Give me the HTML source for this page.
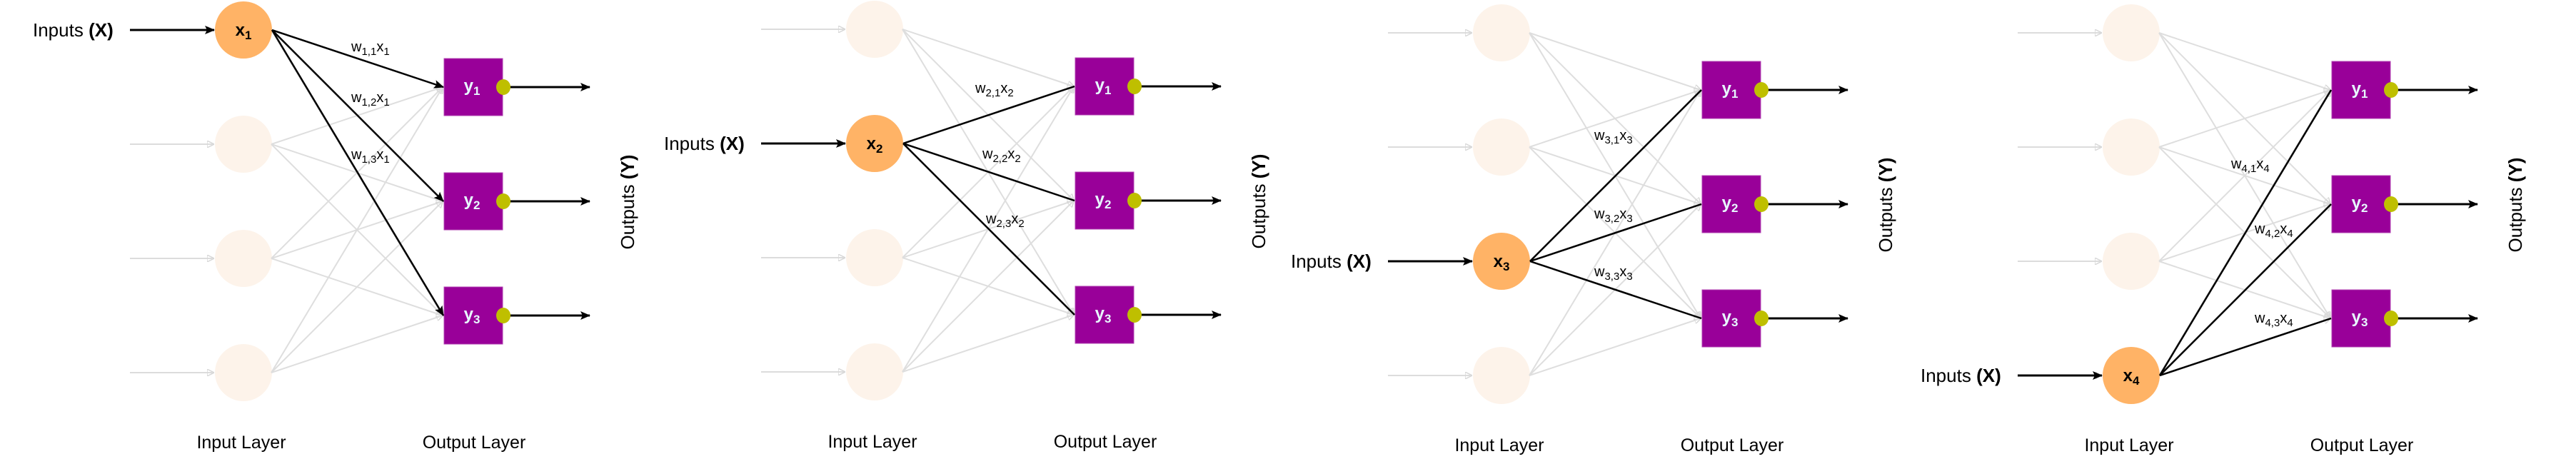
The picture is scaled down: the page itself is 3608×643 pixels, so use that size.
<!DOCTYPE html>
<html><head><meta charset="utf-8"><style>
html,body{margin:0;padding:0;background:#fff;width:3608px;height:643px;overflow:hidden}
svg{display:block}
text{font-family:"Liberation Sans",Arial,sans-serif}
</style></head><body>
<svg width="3608" height="643" viewBox="0 0 3608 643" xmlns="http://www.w3.org/2000/svg">
<defs>
<marker id="ab" markerWidth="10" markerHeight="10" refX="9" refY="5" orient="auto" markerUnits="userSpaceOnUse"><path d="M0,0 L10,5 L0,10 L3,5 z" fill="#000"/></marker>
<marker id="ag" markerWidth="10" markerHeight="10" refX="9" refY="5" orient="auto" markerUnits="userSpaceOnUse"><path d="M0,0 L10,5 L0,10 z" fill="none" stroke="#d8d8d8" stroke-width="1.5"/></marker>
<marker id="ab2" markerWidth="14" markerHeight="14" refX="13" refY="7" orient="auto" markerUnits="userSpaceOnUse"><path d="M0,1 L14,7 L0,13 L3,7 z" fill="#000"/></marker>
<g id="base">
 <g stroke="#dcdcdc" stroke-width="2" marker-end="url(#ag)">
  <line x1="182" y1="42" x2="299" y2="42"/><line x1="182" y1="202" x2="299" y2="202"/>
  <line x1="182" y1="362" x2="299" y2="362"/><line x1="182" y1="522" x2="299" y2="522"/>
 </g>
 <g fill="#fdf3ea">
  <circle cx="341" cy="42" r="40"/><circle cx="341" cy="202" r="40"/>
  <circle cx="341" cy="362" r="40"/><circle cx="341" cy="522" r="40"/>
 </g>
 <g stroke="#dedede" stroke-width="2" marker-end="url(#ag)">
  <line x1="380" y1="42" x2="620" y2="122"/><line x1="380" y1="42" x2="620" y2="282"/><line x1="380" y1="42" x2="620" y2="442"/>
  <line x1="380" y1="202" x2="620" y2="122"/><line x1="380" y1="202" x2="620" y2="282"/><line x1="380" y1="202" x2="620" y2="442"/>
  <line x1="380" y1="362" x2="620" y2="122"/><line x1="380" y1="362" x2="620" y2="282"/><line x1="380" y1="362" x2="620" y2="442"/>
  <line x1="380" y1="522" x2="620" y2="122"/><line x1="380" y1="522" x2="620" y2="282"/><line x1="380" y1="522" x2="620" y2="442"/>
 </g>
 <g fill="#990099" stroke="#b040b0" stroke-width="1">
  <rect x="622" y="82" width="82" height="80"/><rect x="622" y="242" width="82" height="80"/><rect x="622" y="402" width="82" height="80"/>
 </g>
 <g stroke="#000" stroke-width="3" marker-end="url(#ab2)">
  <line x1="712" y1="122" x2="826" y2="122"/><line x1="712" y1="282" x2="826" y2="282"/><line x1="712" y1="442" x2="826" y2="442"/>
 </g>
 <g fill="#bfbf00">
  <ellipse cx="705" cy="122" rx="10" ry="11"/><ellipse cx="705" cy="282" rx="10" ry="11"/><ellipse cx="705" cy="442" rx="10" ry="11"/>
 </g>
</g>
</defs>

<!-- Panel 1 -->
<g transform="translate(0,0)">
 <use href="#base"/>
 <line x1="182" y1="42" x2="300" y2="42" stroke="#000" stroke-width="3" marker-end="url(#ab2)"/>
 <circle cx="341" cy="42" r="40" fill="#ffb366"/>
 <g stroke="#000" stroke-width="2.5" marker-end="url(#ab2)">
  <line x1="381" y1="42" x2="621" y2="122"/><line x1="381" y1="42" x2="621" y2="282"/><line x1="381" y1="42" x2="621" y2="442"/>
 </g>
 <text x="46" y="51" font-size="26">Inputs <tspan font-weight="bold">(X)</tspan></text>
 <text x="341" y="50" font-size="24" font-weight="bold" text-anchor="middle">x<tspan font-size="17" dy="5">1</tspan></text>
 <text x="492" y="72" font-size="20">w<tspan font-size="15" dy="5">1,1</tspan><tspan dy="-5">x</tspan><tspan font-size="15" dy="5">1</tspan></text>
 <text x="492" y="143" font-size="20">w<tspan font-size="15" dy="5">1,2</tspan><tspan dy="-5">x</tspan><tspan font-size="15" dy="5">1</tspan></text>
 <text x="492" y="223" font-size="20">w<tspan font-size="15" dy="5">1,3</tspan><tspan dy="-5">x</tspan><tspan font-size="15" dy="5">1</tspan></text>
 <g fill="#e8faff" font-size="24" font-weight="bold" text-anchor="middle">
  <text x="661" y="128">y<tspan font-size="17" dy="5">1</tspan></text>
  <text x="661" y="288">y<tspan font-size="17" dy="5">2</tspan></text>
  <text x="661" y="448">y<tspan font-size="17" dy="5">3</tspan></text>
 </g>
 <text transform="translate(888,283) rotate(-90)" font-size="26" text-anchor="middle">Outputs <tspan font-weight="bold">(Y)</tspan></text>
 <text x="338" y="628" font-size="25" text-anchor="middle">Input Layer</text>
 <text x="664" y="628" font-size="25" text-anchor="middle">Output Layer</text>
</g>

<!-- Panel 2 -->
<g transform="translate(884,-1)">
 <use href="#base"/>
 <line x1="182" y1="202" x2="300" y2="202" stroke="#000" stroke-width="3" marker-end="url(#ab2)"/>
 <circle cx="341" cy="202" r="40" fill="#ffb366"/>
 <g stroke="#000" stroke-width="2.5">
  <line x1="381" y1="202" x2="621" y2="122"/><line x1="381" y1="202" x2="621" y2="282"/><line x1="381" y1="202" x2="621" y2="442"/>
 </g>
 <text x="46" y="211" font-size="26">Inputs <tspan font-weight="bold">(X)</tspan></text>
 <text x="341" y="210" font-size="24" font-weight="bold" text-anchor="middle">x<tspan font-size="17" dy="5">2</tspan></text>
 <text x="482" y="131" font-size="20">w<tspan font-size="15" dy="5">2,1</tspan><tspan dy="-5">x</tspan><tspan font-size="15" dy="5">2</tspan></text>
 <text x="492" y="223" font-size="20">w<tspan font-size="15" dy="5">2,2</tspan><tspan dy="-5">x</tspan><tspan font-size="15" dy="5">2</tspan></text>
 <text x="497" y="314" font-size="20">w<tspan font-size="15" dy="5">2,3</tspan><tspan dy="-5">x</tspan><tspan font-size="15" dy="5">2</tspan></text>
 <g fill="#e8faff" font-size="24" font-weight="bold" text-anchor="middle">
  <text x="661" y="128">y<tspan font-size="17" dy="5">1</tspan></text>
  <text x="661" y="288">y<tspan font-size="17" dy="5">2</tspan></text>
  <text x="661" y="448">y<tspan font-size="17" dy="5">3</tspan></text>
 </g>
 <text transform="translate(888,283) rotate(-90)" font-size="26" text-anchor="middle">Outputs <tspan font-weight="bold">(Y)</tspan></text>
 <text x="338" y="628" font-size="25" text-anchor="middle">Input Layer</text>
 <text x="664" y="628" font-size="25" text-anchor="middle">Output Layer</text>
</g>

<!-- Panel 3 -->
<g transform="translate(1762,4)">
 <use href="#base"/>
 <line x1="182" y1="362" x2="300" y2="362" stroke="#000" stroke-width="3" marker-end="url(#ab2)"/>
 <circle cx="341" cy="362" r="40" fill="#ffb366"/>
 <g stroke="#000" stroke-width="2.5">
  <line x1="381" y1="362" x2="621" y2="122"/><line x1="381" y1="362" x2="621" y2="282"/><line x1="381" y1="362" x2="621" y2="442"/>
 </g>
 <text x="46" y="371" font-size="26">Inputs <tspan font-weight="bold">(X)</tspan></text>
 <text x="341" y="370" font-size="24" font-weight="bold" text-anchor="middle">x<tspan font-size="17" dy="5">3</tspan></text>
 <text x="471" y="192" font-size="20">w<tspan font-size="15" dy="5">3,1</tspan><tspan dy="-5">x</tspan><tspan font-size="15" dy="5">3</tspan></text>
 <text x="471" y="302" font-size="20">w<tspan font-size="15" dy="5">3,2</tspan><tspan dy="-5">x</tspan><tspan font-size="15" dy="5">3</tspan></text>
 <text x="471" y="383" font-size="20">w<tspan font-size="15" dy="5">3,3</tspan><tspan dy="-5">x</tspan><tspan font-size="15" dy="5">3</tspan></text>
 <g fill="#e8faff" font-size="24" font-weight="bold" text-anchor="middle">
  <text x="661" y="128">y<tspan font-size="17" dy="5">1</tspan></text>
  <text x="661" y="288">y<tspan font-size="17" dy="5">2</tspan></text>
  <text x="661" y="448">y<tspan font-size="17" dy="5">3</tspan></text>
 </g>
 <text transform="translate(888,283) rotate(-90)" font-size="26" text-anchor="middle">Outputs <tspan font-weight="bold">(Y)</tspan></text>
 <text x="338" y="628" font-size="25" text-anchor="middle">Input Layer</text>
 <text x="664" y="628" font-size="25" text-anchor="middle">Output Layer</text>
</g>

<!-- Panel 4 -->
<g transform="translate(2644,4)">
 <use href="#base"/>
 <line x1="182" y1="522" x2="300" y2="522" stroke="#000" stroke-width="3" marker-end="url(#ab2)"/>
 <circle cx="341" cy="522" r="40" fill="#ffb366"/>
 <g stroke="#000" stroke-width="2.5">
  <line x1="381" y1="522" x2="621" y2="122"/><line x1="381" y1="522" x2="621" y2="282"/><line x1="381" y1="522" x2="621" y2="442"/>
 </g>
 <text x="46" y="531" font-size="26">Inputs <tspan font-weight="bold">(X)</tspan></text>
 <text x="341" y="530" font-size="24" font-weight="bold" text-anchor="middle">x<tspan font-size="17" dy="5">4</tspan></text>
 <text x="481" y="232" font-size="20">w<tspan font-size="15" dy="5">4,1</tspan><tspan dy="-5">x</tspan><tspan font-size="15" dy="5">4</tspan></text>
 <text x="514" y="323" font-size="20">w<tspan font-size="15" dy="5">4,2</tspan><tspan dy="-5">x</tspan><tspan font-size="15" dy="5">4</tspan></text>
 <text x="514" y="448" font-size="20">w<tspan font-size="15" dy="5">4,3</tspan><tspan dy="-5">x</tspan><tspan font-size="15" dy="5">4</tspan></text>
 <g fill="#e8faff" font-size="24" font-weight="bold" text-anchor="middle">
  <text x="661" y="128">y<tspan font-size="17" dy="5">1</tspan></text>
  <text x="661" y="288">y<tspan font-size="17" dy="5">2</tspan></text>
  <text x="661" y="448">y<tspan font-size="17" dy="5">3</tspan></text>
 </g>
 <text transform="translate(888,283) rotate(-90)" font-size="26" text-anchor="middle">Outputs <tspan font-weight="bold">(Y)</tspan></text>
 <text x="338" y="628" font-size="25" text-anchor="middle">Input Layer</text>
 <text x="664" y="628" font-size="25" text-anchor="middle">Output Layer</text>
</g>
</svg>
</body></html>
